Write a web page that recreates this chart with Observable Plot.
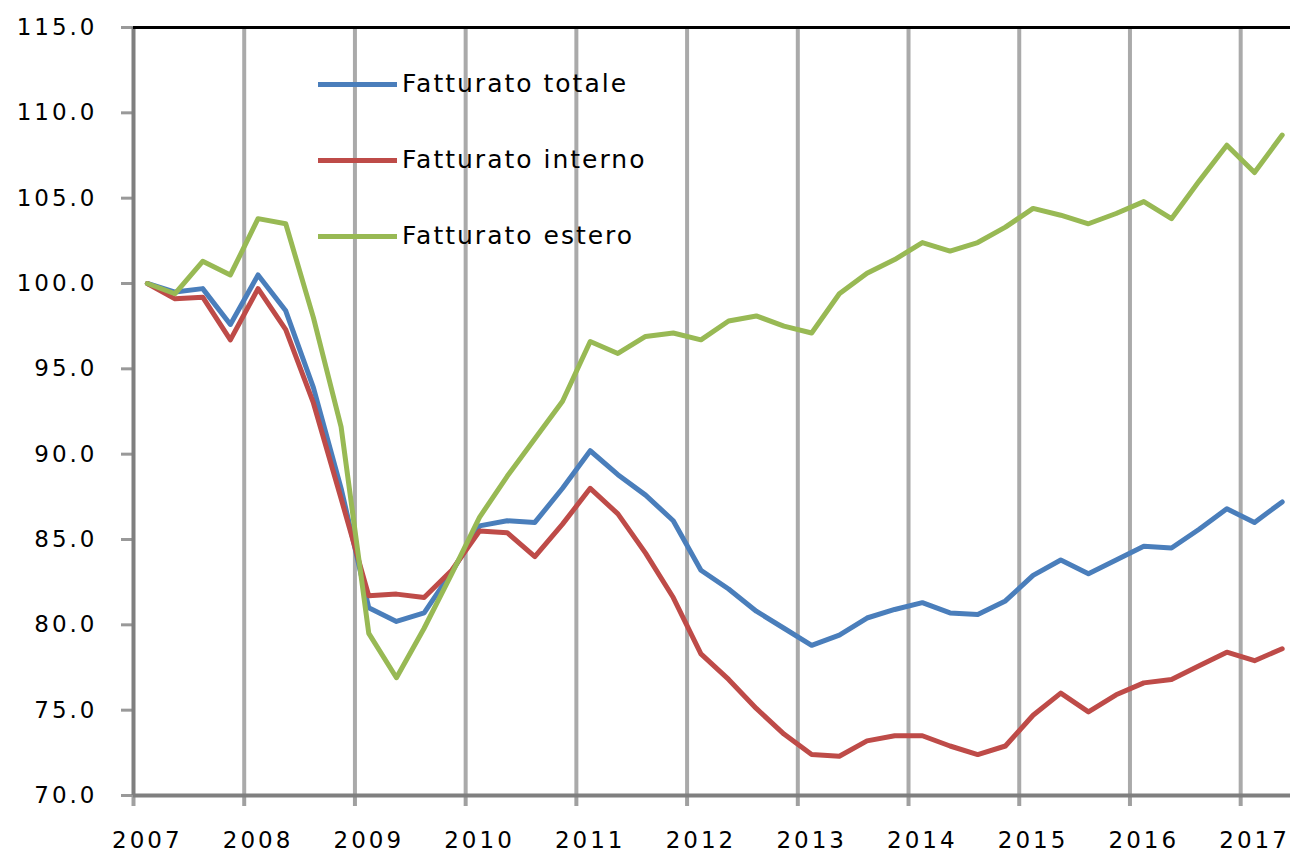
<!DOCTYPE html>
<html><head><meta charset="utf-8">
<script src="https://cdn.jsdelivr.net/npm/d3@7"></script>
<script src="https://cdn.jsdelivr.net/npm/@observablehq/plot@0.6"></script>
<style>
body{margin:0;background:#fff;}
#wrap{position:relative;width:1293px;height:858px;font-family:"DejaVu Sans",sans-serif;}
#wrap svg{overflow:visible;}
#wrap svg text{letter-spacing:3px;}
.leg{position:absolute;left:318px;height:30px;line-height:30px;display:flex;align-items:center;font-size:25px;letter-spacing:2px;color:#000;white-space:nowrap;}
.sw{width:79px;height:5px;margin-right:5px;}
</style></head><body><div id="wrap"></div>
<script>
const years = [2007,2008,2009,2010,2011,2012,2013,2014,2015,2016,2017];
const yTicks = [70,75,80,85,90,95,100,105,110,115];
const startYear = 2007;
const seriesNames = ["Fatturato totale","Fatturato interno","Fatturato estero"];
const colors = ["#4A7EBB","#BE4B48","#98B954"];
// quarterly values, 2007 Q1 .. 2017 Q2
const totale = [100.0,99.5,99.7,97.6,100.5,98.4,93.9,88.0,81.0,80.2,80.7,83.1,85.8,86.1,86.0,88.0,90.2,88.8,87.6,86.1,83.2,82.1,80.8,79.8,78.8,79.4,80.4,80.9,81.3,80.7,80.6,81.4,82.9,83.8,83.0,83.8,84.6,84.5,85.6,86.8,86.0,87.2];
const interno = [100.0,99.1,99.2,96.7,99.7,97.3,93.0,87.4,81.7,81.8,81.6,83.2,85.5,85.4,84.0,85.9,88.0,86.5,84.2,81.6,78.3,76.8,75.1,73.6,72.4,72.3,73.2,73.5,73.5,72.9,72.4,72.9,74.7,76.0,74.9,75.9,76.6,76.8,77.6,78.4,77.9,78.6];
const estero = [100.0,99.4,101.3,100.5,103.8,103.5,98.0,91.6,79.5,76.9,79.8,83.0,86.3,88.7,90.9,93.1,96.6,95.9,96.9,97.1,96.7,97.8,98.1,97.5,97.1,99.4,100.6,101.4,102.4,101.9,102.4,103.3,104.4,104.0,103.5,104.1,104.8,103.8,106.0,108.1,106.5,108.7];

const data = [];
[totale, interno, estero].forEach((arr, s) =>
  arr.forEach((v, i) => data.push({x: startYear + (i + 0.5) / 4, y: v, s: seriesNames[s]})));

const chart = Plot.plot({
  width: 1293, height: 858,
  marginLeft: 133, marginRight: 3, marginTop: 27, marginBottom: 63,
  x: {domain: [2007, 2017.45], label: null},
  y: {domain: [70, 115], label: null},
  color: {domain: seriesNames, range: colors},
  style: {fontFamily: "DejaVu Sans", fontSize: "23px", color: "#000", background: "#fff"},
  marks: [
    Plot.ruleX(years.slice(1), {stroke: "#aaaaaa", strokeWidth: 4}),
    Plot.axisX(years, {tickSize: 11, tickFormat: () => "", stroke: "#a0a0a0", strokeWidth: 4, label: null}),
    Plot.axisX(years.map(y => y + 0.125), {tickSize: 0, tickPadding: 36, tickFormat: d => String(Math.floor(d)), fill: "#000", label: null}),
    Plot.axisY(yTicks, {tickSize: 12, tickPadding: 24, tickFormat: d => d.toFixed(1), stroke: "#999", strokeWidth: 3, fill: "#000", label: null}),
    Plot.ruleY([70], {stroke: "#7f7f7f", strokeWidth: 4}),
    Plot.ruleX([2007], {stroke: "#7f7f7f", strokeWidth: 4}),
    Plot.ruleY([115], {stroke: "#000", strokeWidth: 3}),
    Plot.lineY(data, {x: "x", y: "y", z: "s", stroke: "s", strokeWidth: 5, strokeLinejoin: "round", strokeLinecap: "round"})
  ]
});
const wrap = document.getElementById("wrap");
wrap.appendChild(chart);

const legTops = [69, 145, 221];
seriesNames.forEach((name, i) => {
  const d = document.createElement("div");
  d.className = "leg";
  d.style.top = legTops[i] + "px";
  const sw = document.createElement("span");
  sw.className = "sw";
  sw.style.background = colors[i];
  const t = document.createElement("span");
  t.textContent = name;
  d.appendChild(sw); d.appendChild(t);
  wrap.appendChild(d);
});
</script></body></html>
